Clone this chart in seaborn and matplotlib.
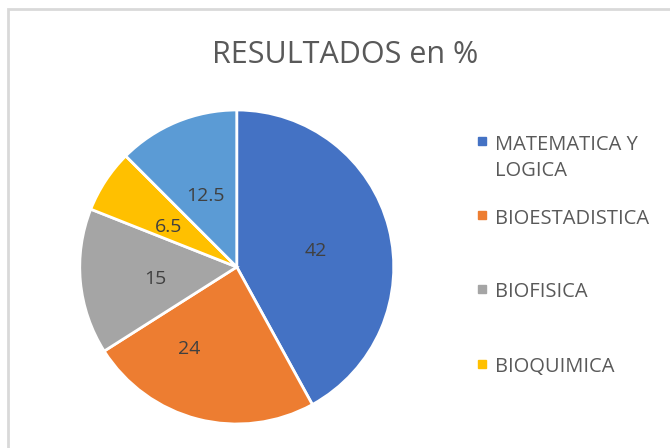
import matplotlib
matplotlib.use("Agg")
import numpy as np
import matplotlib.pyplot as plt
import seaborn as sns
from matplotlib.patches import Rectangle

# data
categories = ["MATEMATICA Y\nLOGICA", "BIOESTADISTICA", "BIOFISICA", "BIOQUIMICA", "OTROS"]
values = [42, 24, 15, 6.5, 12.5]
colors = ["#4472C4", "#ED7D31", "#A5A5A5", "#FFC000", "#5B9BD5"]

sns.set_theme(style="white")
plt.rcParams["font.family"] = ["Open Sans", "DejaVu Sans"]

fig = plt.figure(figsize=(6.7, 4.48), dpi=100)
fig.patch.set_facecolor("white")

# chart area border (Excel style)
fig.patches.append(Rectangle((8 / 670, -0.05), 1.2, 1 - 9 / 448 + 0.05,
                             transform=fig.transFigure, fill=False,
                             edgecolor="#D9D9D9", linewidth=2))

ax = fig.add_axes([0.119, 0.0536, 0.4687, 0.7009])
wedges, texts, autotexts = ax.pie(
    values, colors=colors, startangle=90, counterclock=False,
    autopct=lambda p: f"{round(p, 1):g}", pctdistance=0.52,
    wedgeprops=dict(edgecolor="white", linewidth=2),
    textprops=dict(color="#404040", fontsize=14))
ax.set_xlim(-1.0, 1.0)
ax.set_ylim(-1.0, 1.0)
ax.set_aspect("equal")
for w in wedges:
    w.set_clip_on(False)

# Excel "best fit" nudges: labels sit a little lower, the big orange one further left
for i, (w, t) in enumerate(zip(wedges, autotexts)):
    ang = np.deg2rad((w.theta1 + w.theta2) / 2 - (17 if i == 1 else 0))
    r = 0.58 if i == 1 else 0.52
    t.set_position((r * np.cos(ang), r * np.sin(ang) - 0.03))

fig.text(0.515, 0.877, "RESULTADOS en %", ha="center", va="center",
         fontsize=22, color="#595959")

# legend drawn by hand: only the first four entries show in the reference
leg_y = [141.5, 215.5, 288.5, 363.5]
for lab, col, y in zip(categories[:4], colors[:4], leg_y):
    yf = 1 - y / 448
    fig.patches.append(Rectangle((478 / 670, yf - 4 / 448), 8 / 670, 8 / 448,
                                 transform=fig.transFigure, color=col))
    fig.text(495 / 670, yf + 7 / 448, lab, ha="left", va="top", fontsize=14.5,
             color="#595959", linespacing=1.45)

fig.savefig("out.png", dpi=100, facecolor="white")
